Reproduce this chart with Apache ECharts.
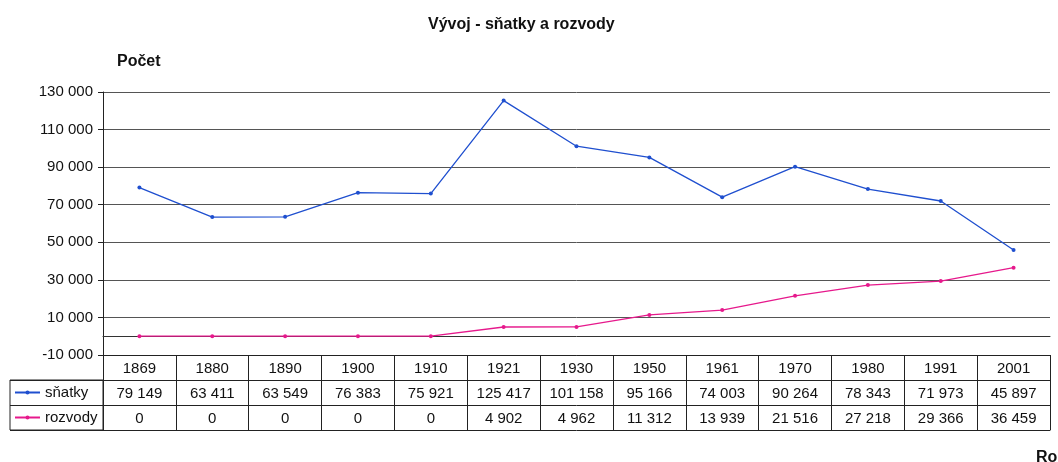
<!DOCTYPE html>
<html>
<head>
<meta charset="utf-8">
<script src="https://cdn.jsdelivr.net/npm/echarts@6/dist/echarts.min.js"></script>
<style>html,body{margin:0;padding:0;background:#fff}#c{width:1058px;height:462px}</style>
</head>
<body>
<div id="c"></div>
<script>
const years = ['1869','1880','1890','1900','1910','1921','1930','1950','1961','1970','1980','1991','2001'];
const snatky = [79149,63411,63549,76383,75921,125417,101158,95166,74003,90264,78343,71973,45897];
const rozvody = [0,0,0,0,0,4902,4962,11312,13939,21516,27218,29366,36459];
const yTicks = { min: -10000, max: 130000, interval: 20000 };

const FONT = 'Liberation Sans, Arial, sans-serif';
const fmt = v => String(v).replace(/\B(?=(\d{3})+(?!\d))/g, ' ');
const BLUE = '#1f4fcf', PINK = '#e6198c', LINE = '#222';

function tableAxis(data, offset, showLabel, showTick) {
  return {
    type: 'category', gridIndex: 0, position: 'bottom', offset: offset,
    data: data, boundaryGap: true,
    axisLine: { show: true, onZero: false, lineStyle: { color: LINE, width: 1 } },
    axisTick: { show: showTick, interval: 0, length: 75, lineStyle: { color: LINE, width: 1 } },
    axisLabel: { show: showLabel, interval: 0, margin: 6, fontSize: 15, color: '#111', fontFamily: FONT },
    splitLine: { show: false }
  };
}

const chart = echarts.init(document.getElementById('c'), null, { renderer: 'canvas' });
chart.setOption({
  animation: false,
  backgroundColor: '#fff',
  textStyle: { fontFamily: FONT },
  title: [
    { text: 'Vývoj - sňatky a rozvody', left: 423, top: 12, textStyle: { fontSize: 16, fontWeight: 'bold', color: '#111', fontFamily: FONT } },
    { text: 'Počet', left: 112, top: 49, textStyle: { fontSize: 16, fontWeight: 'bold', color: '#111', fontFamily: FONT } },
    { text: 'Rok', left: 1031, top: 445, textStyle: { fontSize: 16, fontWeight: 'bold', color: '#111', fontFamily: FONT } }
  ],
  legend: {
    data: ['sňatky', 'rozvody'], orient: 'vertical', left: 10, top: 380,
    padding: [5, 4], itemGap: 10, itemWidth: 25, itemHeight: 5,
    textStyle: { fontSize: 15, lineHeight: 15, color: '#111', fontFamily: FONT }
  },
  grid: [
    { left: 103, right: 8, top: 92, bottom: 107 },
    { left: 10, top: 380, width: 93, height: 50, show: true, borderColor: LINE, borderWidth: 1, backgroundColor: 'transparent' }
  ],
  xAxis: [
    { type: 'category', gridIndex: 0, data: years, boundaryGap: true,
      axisLine: { show: true, onZero: true, lineStyle: { color: '#333', width: 1 } },
      axisTick: { show: false }, axisLabel: { show: false } },
    tableAxis(years, 0, true, true),
    tableAxis(snatky.map(fmt), 25, true, false),
    tableAxis(rozvody.map(fmt), 50, true, false),
    tableAxis(years, 75, false, false),
    { type: 'value', gridIndex: 1, show: false }
  ],
  yAxis: [
    { type: 'value', gridIndex: 0, min: yTicks.min, max: yTicks.max, interval: yTicks.interval,
      axisLine: { show: true, onZero: false, lineStyle: { color: LINE, width: 1 } },
      axisTick: { show: true, length: 5, lineStyle: { color: LINE } },
      axisLabel: { formatter: v => fmt(v), fontSize: 15, color: '#111', margin: 10, fontFamily: FONT },
      splitLine: { show: true, lineStyle: { color: '#555', width: 1 } } },
    { type: 'category', gridIndex: 1, data: ['sňatky', 'rozvody'], inverse: true, boundaryGap: true,
      axisLine: { show: false }, axisTick: { show: false }, axisLabel: { show: false },
      splitLine: { show: true, interval: 0, lineStyle: { color: LINE, width: 1 } } }
  ],
  series: [
    { name: 'sňatky', type: 'line', xAxisIndex: 0, yAxisIndex: 0, data: snatky,
      symbol: 'circle', symbolSize: 4, lineStyle: { color: BLUE, width: 1.3 }, itemStyle: { color: BLUE } },
    { name: 'rozvody', type: 'line', xAxisIndex: 0, yAxisIndex: 0, data: rozvody,
      symbol: 'circle', symbolSize: 4, lineStyle: { color: PINK, width: 1.3 }, itemStyle: { color: PINK } }
  ]
});
</script>
</body>
</html>
